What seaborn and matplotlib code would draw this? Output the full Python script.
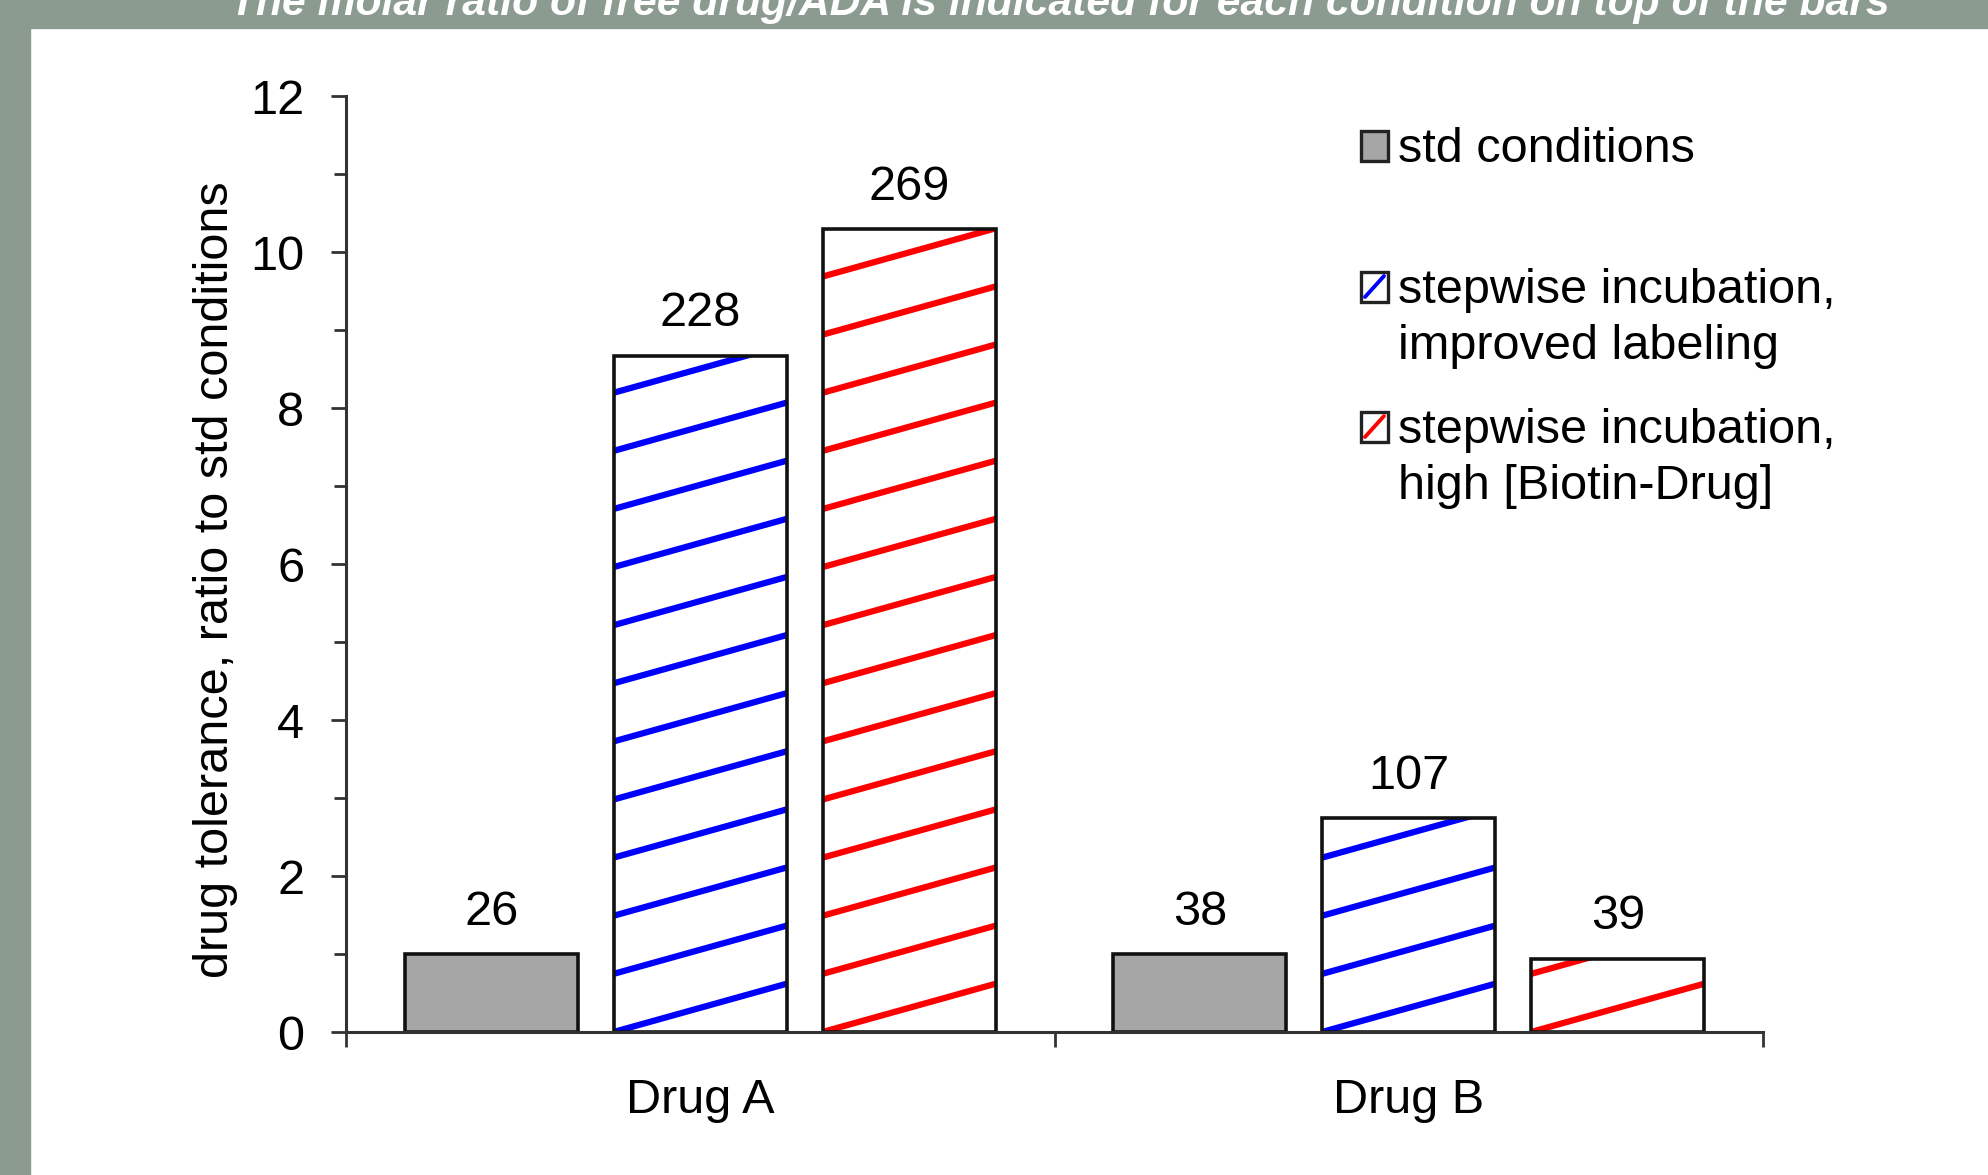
import numpy as np
import pandas as pd
import matplotlib
matplotlib.use('Agg')
import matplotlib.pyplot as plt
import seaborn as sns
from matplotlib.patches import Rectangle
from matplotlib.lines import Line2D

# data
drugs = ['Drug A', 'Drug B']
conditions = ['std conditions',
              'stepwise incubation,\nimproved labeling',
              'stepwise incubation,\nhigh [Biotin-Drug]']
std_values = [1.0, 1.0]
improved_values = [8.67, 2.74]
high_values = [10.29, 0.94]
# molar ratio free drug/ADA shown on top of each bar
std_ratio = ['26', '38']
improved_ratio = ['228', '107']
high_ratio = ['269', '39']

fill_colors = ['#a6a6a6', 'white', 'white']
hatch_colors = [None, '#0000ff', '#ff0000']
frame_grey = '#8b9b90'

df = pd.DataFrame({
    'drug': drugs * 3,
    'condition': np.repeat(conditions, 2),
    'value': std_values + improved_values + high_values,
})

W, H = 1988, 1175
sns.set_style('white')
plt.rcParams['font.family'] = ['Liberation Sans', 'DejaVu Sans']
plt.rcParams['text.color'] = 'black'
plt.rcParams['axes.labelcolor'] = 'black'
plt.rcParams['xtick.color'] = 'black'
plt.rcParams['ytick.color'] = 'black'
fs = 35

fig = plt.figure(figsize=(W / 100, H / 100), dpi=100)
fig.patch.set_facecolor('white')

# grey frame of the slide (top band and left band)
fig.add_artist(Rectangle((0, 1 - 28 / H), 1, 28 / H, transform=fig.transFigure,
                         color=frame_grey, zorder=0))
fig.add_artist(Rectangle((0, 0), 30 / W, 1, transform=fig.transFigure,
                         color=frame_grey, zorder=0))
fig.text(0.533, 1 - 15 / H,
         'The molar ratio of free drug/ADA is indicated for each condition on top of the bars',
         color='white', fontsize=30.7, fontweight='bold', fontstyle='italic',
         ha='center', va='baseline', zorder=5)

ax = fig.add_axes([346 / W, 1 - 1032 / H, (1763 - 346) / W, (1032 - 96) / H])

sns.barplot(data=df, x='drug', y='value', hue='condition', order=drugs,
            hue_order=conditions, palette=fill_colors, saturation=1,
            width=0.885, gap=0.17, edgecolor='#111111', linewidth=2.6,
            legend=False, ax=ax)

# slanted hatch lines, clipped to each bar
spacing = 0.745
rise = 0.62
for cont, hc in zip(ax.containers, hatch_colors):
    if hc is None:
        continue
    for bar in cont:
        bar.set_facecolor('none')
        bar.set_zorder(3)
        x0 = bar.get_x()
        x1 = x0 + bar.get_width()
        for y in np.arange(0, bar.get_height(), spacing):
            ln, = ax.plot([x0, x1], [y, y + rise], color=hc, lw=4.5,
                          solid_capstyle='round', zorder=2)
            ln.set_clip_path(bar)

for cont, labels in zip(ax.containers, [std_ratio, improved_ratio, high_ratio]):
    ax.bar_label(cont, labels=labels, padding=14, fontsize=fs)

ax.set_xlim(-0.5, 1.5)
ax.set_ylim(0, 12)
ax.set_yticks(range(0, 13, 2))
ax.set_yticks(range(1, 13, 2), minor=True)
ax.set_xticks([-0.5, 0.5, 1.5], minor=True)
ax.tick_params(axis='y', which='major', direction='out', length=11, width=2,
               pad=19, labelsize=fs, left=True, color='#333333')
ax.tick_params(axis='y', which='minor', direction='out', length=9, width=2,
               left=True, color='#333333')
ax.tick_params(axis='x', which='major', length=0, pad=33, labelsize=fs)
ax.tick_params(axis='x', which='minor', direction='out', length=11, width=2,
               bottom=True, color='#333333')
sns.despine(ax=ax)
for s in ['left', 'bottom']:
    ax.spines[s].set_color('#333333')
    ax.spines[s].set_linewidth(2.2)
    ax.spines[s].set_zorder(4)

ax.set_xlabel('')
ax.set_ylabel('drug tolerance, ratio to std conditions', fontsize=fs)
ax.yaxis.set_label_coords(-0.076, 0.483)

# legend drawn by hand so each handle sits on the first label line
baselines = [162, 303, 443]
line_step = 56
for i in range(3):
    yb = 1 - baselines[i] / H
    for k, part in enumerate(conditions[i].split('\n')):
        fig.text(1398 / W, yb - k * line_step / H, part, fontsize=fs,
                 ha='left', va='baseline')
    fig.add_artist(Rectangle((1361 / W, yb + 1 / H), 27 / W, 30 / H,
                             transform=fig.transFigure, facecolor=fill_colors[i],
                             edgecolor='#222222', lw=2.4))
    if hatch_colors[i]:
        fig.add_artist(Line2D([1365 / W, 1384 / W], [yb + 6 / H, yb + 27 / H],
                              color=hatch_colors[i], lw=2.8,
                              transform=fig.transFigure))

fig.savefig('out.png', dpi=100)
